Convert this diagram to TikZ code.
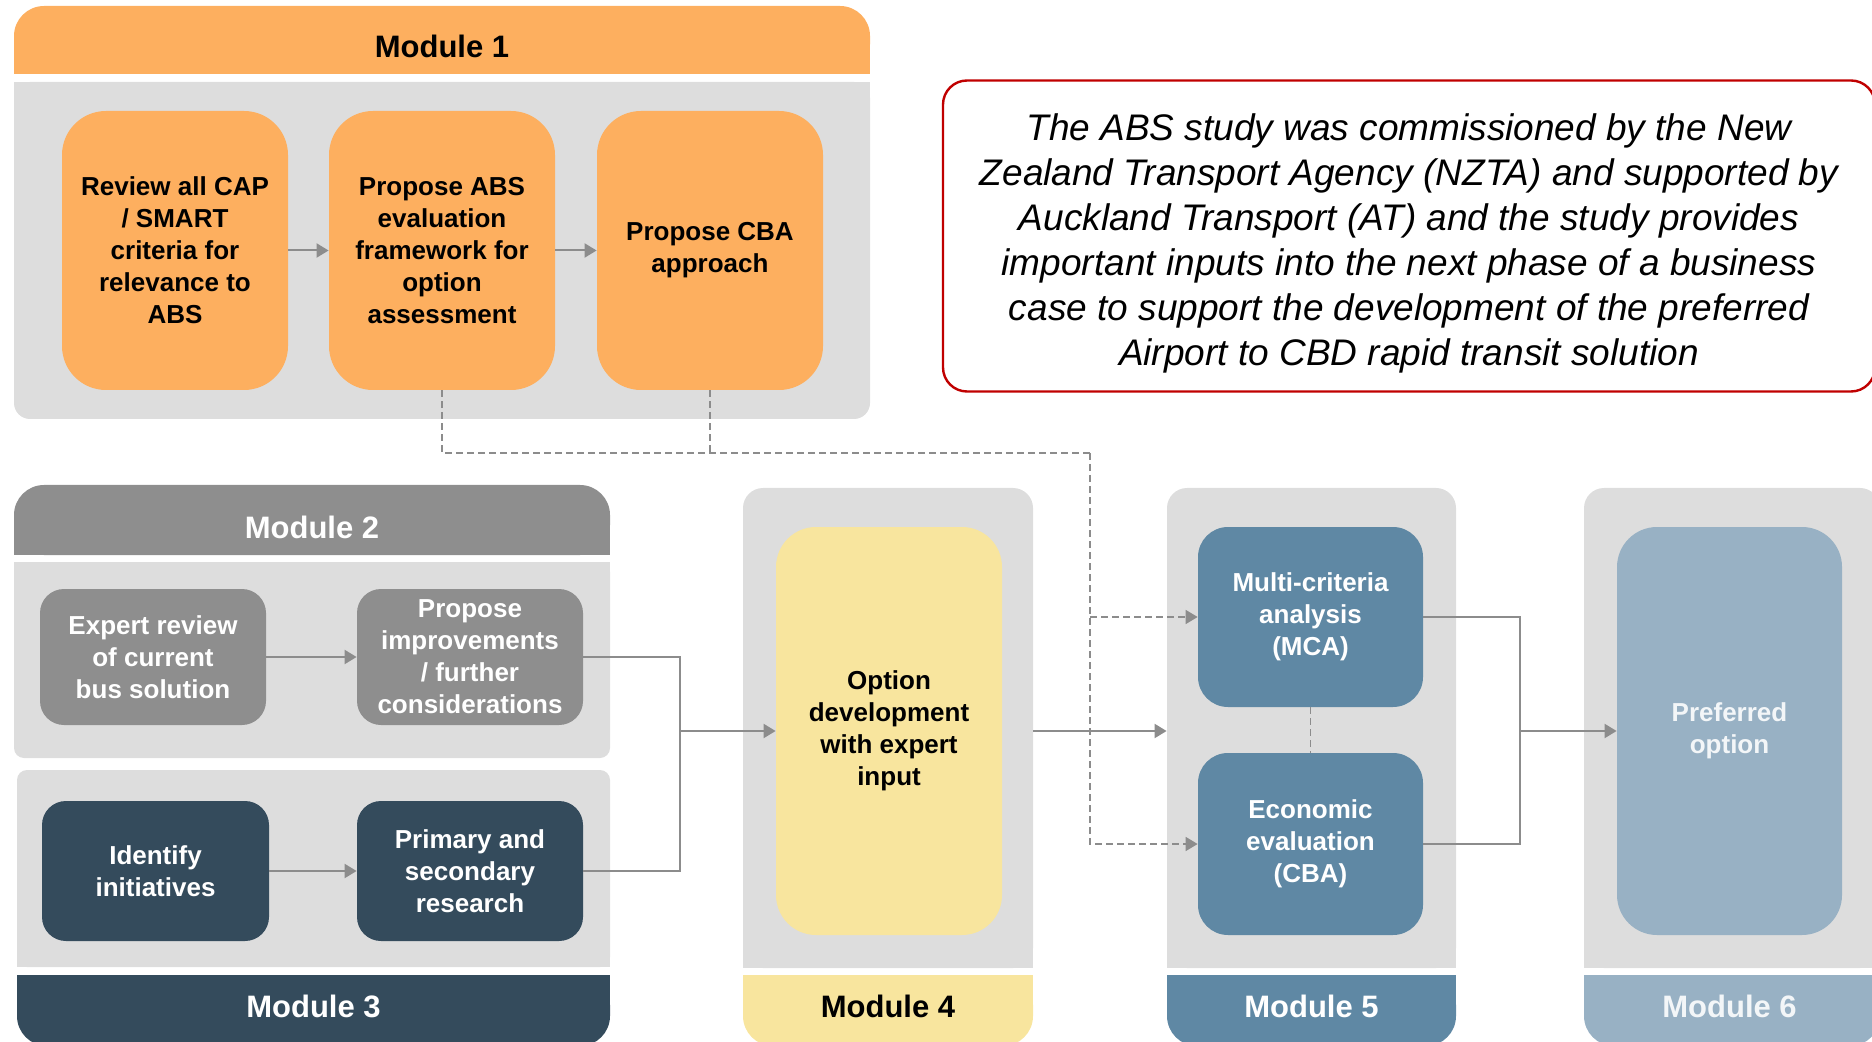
\documentclass[tikz,border=0pt]{standalone}
\usepackage{fontspec}
\setmainfont{Liberation Sans}
\usetikzlibrary{arrows.meta}
\definecolor{modorange}{HTML}{FDAF5F}
\definecolor{panelgray}{HTML}{DDDDDD}
\definecolor{modgray}{HTML}{8E8E8E}
\definecolor{modnavy}{HTML}{344B5C}
\definecolor{modyellow}{HTML}{F8E59E}
\definecolor{modblue}{HTML}{5F88A4}
\definecolor{modpale}{HTML}{98B1C4}
\definecolor{linegray}{HTML}{8C8C8C}
\definecolor{notered}{HTML}{C00000}

\begin{document}
\begin{tikzpicture}[x=0.5pt,y=-0.5pt]
  \tikzstyle{every node}=[inner sep=0pt,align=center]
  \tikzstyle{plate}=[rectangle,fill=panelgray]
  \tikzstyle{task}=[rectangle,text=white,font=\fontsize{13}{16}\selectfont\bfseries,minimum width=113pt]
  \tikzstyle{modlabel}=[font=\fontsize{15.5}{18}\selectfont\bfseries,text=white]
  \tikzstyle{flow}=[draw=linegray,line width=1pt,-{Triangle[length=6pt,width=7pt]}]
  \tikzstyle{link}=[draw=linegray,line width=1pt]
  \tikzstyle{dashflow}=[draw=linegray,line width=0.75pt,dash pattern=on 3.5pt off 2pt]
  \useasboundingbox (0,0) rectangle (1872,1042);

  % module 1
  \node[plate,fill=modorange,rounded corners=15pt,minimum width=428pt,minimum height=34pt] (h1) at (442,40) {};
  \fill[modorange] (h1.west) rectangle (h1.south east);
  \node[modlabel,text=black] (l1) at (442,46) {Module 1};
  \node[plate,rounded corners=8pt,minimum width=428pt,minimum height=168.5pt] (p1) at (442,250.5) {};
  \fill[panelgray] (p1.north west) rectangle (p1.east);
  \node[task,fill=modorange,text=black,rounded corners=22pt,minimum height=139.5pt] (review) at (175,250.5) {Review all CAP\\/ SMART\\criteria for\\relevance to\\ABS};
  \node[task,fill=modorange,text=black,rounded corners=22pt,minimum height=139.5pt] (framework) at (442,250.5) {Propose ABS\\evaluation\\framework for\\option\\assessment};
  \node[task,fill=modorange,text=black,rounded corners=22pt,minimum height=139.5pt] (cbaprop) at (710,250.5) {Propose CBA\\approach};

  % note
  \node[draw=notered,line width=1.2pt,rounded corners=12pt,minimum width=466pt,minimum height=155.5pt] (note) at (1409,236) {};
  \node[font=\fontsize{18.5}{22.5}\selectfont\itshape] (notetext) at (1409,243)
    {The ABS study was commissioned by the New\\Zealand Transport Agency (NZTA) and supported by\\Auckland Transport (AT) and the study provides\\important inputs into the next phase of a business\\case to support the development of the preferred\\Airport to CBD rapid transit solution};

  % modules 2 and 3
  \node[plate,fill=modgray,rounded corners=15pt,minimum width=298pt,minimum height=35pt] (h2) at (312,520) {};
  \fill[modgray] (h2.west) rectangle (h2.south east);
  \node[modlabel] (l2) at (312,527) {Module 2};
  \node[plate,rounded corners=5pt,minimum width=298pt,minimum height=98pt] (p2) at (312,660) {};
  \fill[panelgray] (p2.north west) rectangle (p2.east);
  \node[task,fill=modgray,rounded corners=12pt,minimum height=68pt] (expert) at (153,657) {Expert review\\of current\\bus solution};
  \node[task,fill=modgray,rounded corners=12pt,minimum height=68pt] (improve) at (470,657) {Propose\\improvements\\/ further\\considerations};

  \node[plate,rounded corners=5pt,minimum width=296.5pt,minimum height=98.5pt] (p3) at (313.5,868.5) {};
  \fill[panelgray] (p3.west) rectangle (p3.south east);
  \node[task,fill=modnavy,rounded corners=12pt,minimum width=113.5pt,minimum height=70pt] (identify) at (155.5,871) {Identify\\initiatives};
  \node[task,fill=modnavy,rounded corners=12pt,minimum height=70pt] (research) at (470,871) {Primary and\\secondary\\research};
  \node[plate,fill=modnavy,rounded corners=15pt,minimum width=296.5pt,minimum height=35.5pt] (f3) at (313.5,1010.5) {};
  \fill[modnavy] (f3.north west) rectangle (f3.east);
  \node[modlabel] (l3) at (313.5,1006) {Module 3};

  % modules 4, 5 and 6
  \foreach \name/\cx/\w/\col in {4/888/145pt/modyellow,5/1311.5/144.5pt/modblue,6/1732/148pt/modpale}{
    \node[plate,rounded corners=10pt,minimum width=\w,minimum height=240pt] (p\name) at (\cx,728) {};
    \fill[panelgray] (p\name.west) rectangle (p\name.south east);
    \node[plate,fill=\col,rounded corners=15pt,minimum width=\w,minimum height=35.5pt] (f\name) at (\cx,1010.5) {};
    \fill[\col] (f\name.north west) rectangle (f\name.east);
  }
  \node[modlabel,text=black] (l4) at (888,1006) {Module 4};
  \node[modlabel] (l5) at (1311.5,1006) {Module 5};
  \node[modlabel,text=white!88!modpale] (l6) at (1729.5,1006) {Module 6};

  \node[task,fill=modyellow,text=black,rounded corners=20pt,minimum height=204pt] (option) at (889,731) {Option\\development\\with expert\\input};
  \node[task,fill=modblue,rounded corners=15pt,minimum width=112.5pt,minimum height=90pt] (mca) at (1310.5,617) {Multi-criteria\\analysis\\(MCA)};
  \node[task,fill=modblue,rounded corners=15pt,minimum width=112.5pt,minimum height=91pt] (cba) at (1310.5,844) {Economic\\evaluation\\(CBA)};
  \node[task,fill=modpale,text=white!88!modpale,rounded corners=20pt,minimum width=112.5pt,minimum height=204pt] (preferred) at (1729.5,731) {Preferred\\option};

  % connectors
  \coordinate (dj) at (1090,453);
  \coordinate (jl) at (680,731);
  \coordinate (jr) at (1520,731);
  \draw[flow] (review) -- (framework);
  \draw[flow] (framework) -- (cbaprop);
  \draw[dashflow] (framework.south) |- (dj);
  \draw[dashflow] (cbaprop.south) -- (cbaprop.south |- dj);
  \draw[dashflow,-{Triangle[length=6pt,width=7pt]}] (dj) |- (cba.west);
  \draw[dashflow,-{Triangle[length=6pt,width=7pt]}] (dj |- mca.west) -- (mca.west);
  \draw[dashflow] (mca.south) -- (cba.north);
  \draw[flow] (expert) -- (improve);
  \draw[flow] (identify) -- (research);
  \draw[link] (improve.east) -| (jl);
  \draw[link] (research.east) -| (jl);
  \draw[flow] (jl) -- (option.west);
  \draw[flow] (p4.east |- option.east) -- (p5.west |- option.east);
  \draw[link] (mca.east) -| (jr);
  \draw[link] (cba.east) -| (jr);
  \draw[flow] (jr) -- (preferred.west);
\end{tikzpicture}
\end{document}
